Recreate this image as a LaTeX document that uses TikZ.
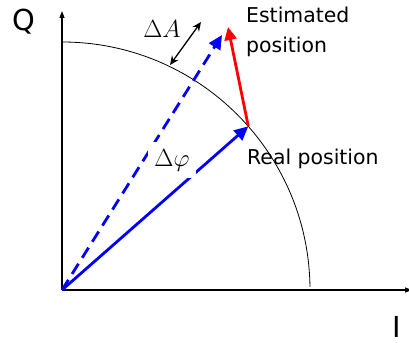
\documentclass[tikz,border=0pt]{standalone}
\usepackage{fontspec}
\setmainfont{DejaVu Sans}
\usetikzlibrary{arrows.meta,calc}
\begin{document}
\begin{tikzpicture}[x=1bp,y=1bp,
  axis/.style={line width=1.1bp,-{Triangle[length=7bp,width=5bp]}},
  vec/.style={blue,line width=2.8bp,-{Triangle[length=14bp,width=13bp]}},
  lbl/.style={font=\fontsize{20.5}{24}\selectfont,inner sep=0pt},
  big/.style={font=\fontsize{29}{32}\selectfont,inner sep=0pt},
  mathlbl/.style={font=\fontsize{23}{26}\selectfont}]
\useasboundingbox (0,0) rectangle (409,343);
\coordinate (O) at (62,53);
\coordinate (Qtop) at (62,332);
\coordinate (Iend) at (412,53);
\coordinate (R) at ($(O)+(41.3:248)$);
\coordinate (E) at (222,308);
\coordinate (Rt) at (228,316);
\coordinate (dA1) at (170,278);
\coordinate (dA2) at (201,321);
\draw[axis] (O) -- (Qtop);
\draw[axis] (O) -- (Iend);
\draw[line width=0.8bp] ($(O)+(0,248)$) arc[start angle=90,end angle=0.7,radius=248];
\draw[vec,dash pattern=on 12bp off 7bp] (O) -- (E);
\draw[vec] (O) -- (R);
\draw[red,line width=2.8bp,-{Triangle[length=13bp,width=12bp]}] (R) -- (Rt);
\draw[line width=1.3bp,{Stealth[length=9bp,width=8bp]}-{Stealth[length=9bp,width=8bp]}] (dA1) -- (dA2);
\node[mathlbl,fill=white,inner xsep=6bp,inner ysep=7bp,anchor=base] (dphi) at (172,177) {$\Delta\varphi$};
\node[mathlbl,inner sep=0pt,anchor=base] (dA) at (162,306) {$\Delta A$};
\node[lbl,anchor=base west] (est1) at (246,321) {Estimated};
\node[lbl,anchor=base west] (est2) at (246,291) {position};
\node[lbl,anchor=base west] (real) at (247,179) {Real position};
\node[big,anchor=base west] (Q) at (12,313) {Q};
\node[big,anchor=base west] (I) at (392,6) {I};
\end{tikzpicture}
\end{document}
